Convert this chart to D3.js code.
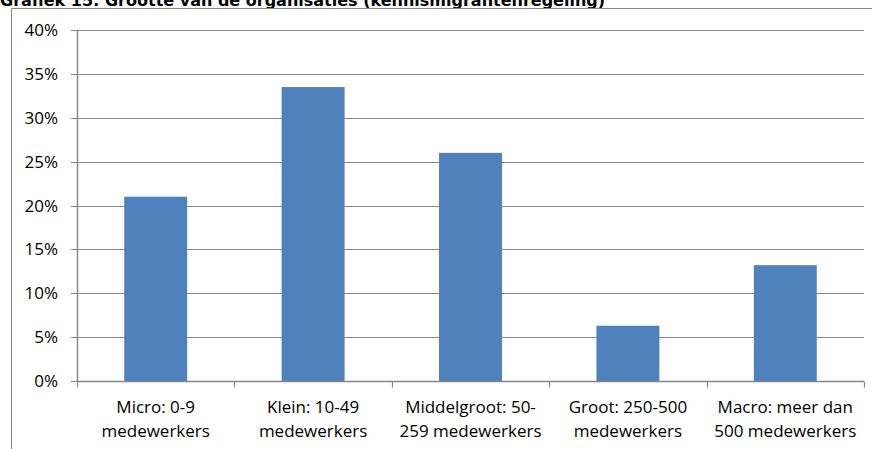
<!DOCTYPE html>
<html>
<head>
    <script src="https://d3js.org/d3.v7.min.js"></script>
    <style>
        body { margin: 0; background: #fff; }
        text { font-family: "Open Sans", "Noto Sans", sans-serif; fill: #000; }
    </style>
</head>
<body>
    <svg id="mysvg" width="872" height="449"></svg>
    <script>
        var title = "Grafiek 15: Grootte van de organisaties (kennismigrantenregeling)";
        var categories = [
            ["Micro: 0-9", "medewerkers"],
            ["Klein: 10-49", "medewerkers"],
            ["Middelgroot: 50-", "259 medewerkers"],
            ["Groot: 250-500", "medewerkers"],
            ["Macro: meer dan", "500 medewerkers"]
        ];
        var values = [21.0, 33.5, 26.0, 6.3, 13.2];
        var yTicks = [0, 5, 10, 15, 20, 25, 30, 35, 40];

        var svg = d3.select("svg");
        var margin = { top: 30, bottom: 68, left: 77, right: 8 };
        var width = 872, height = 449;

        // titel, bovenkant valt buiten beeld (zoals in het origineel)
        svg.append("text")
            .attr("x", 0)
            .attr("y", 6)
            .style("font-family", "Verdana, 'DejaVu Sans', sans-serif")
            .style("font-weight", "bold")
            .style("font-size", "16px")
            .text(title);

        // kader om de grafiek
        svg.append("path")
            .attr("d", "M11.5," + height + "V8.5H" + width)
            .attr("fill", "none")
            .attr("stroke", "#868686")
            .attr("stroke-width", 1);

        var xScale = d3.scaleBand()
            .domain(d3.range(categories.length))
            .range([margin.left, width - margin.right])
            .paddingInner(0.6)
            .paddingOuter(0.3);

        var xOuter = d3.scaleBand()
            .domain(d3.range(categories.length))
            .range([margin.left, width - margin.right]);

        var yScale = d3.scaleLinear()
            .domain([0, 40])
            .range([height - margin.bottom, margin.top]);

        // rasterlijnen
        svg.append("g")
            .selectAll("line")
            .data(yTicks)
            .enter()
            .append("line")
            .attr("x1", margin.left - 6)
            .attr("x2", width - margin.right)
            .attr("y1", (d) => { return Math.round(yScale(d)) + 0.5 })
            .attr("y2", (d) => { return Math.round(yScale(d)) + 0.5 })
            .attr("stroke", "#868686")
            .attr("stroke-width", 1.2);

        // y-as labels
        svg.append("g")
            .selectAll("text")
            .data(yTicks)
            .enter()
            .append("text")
            .attr("x", 58)
            .attr("y", (d) => { return yScale(d) + 6 })
            .attr("text-anchor", "end")
            .style("font-size", "17px")
            .text((d) => { return d + "%" });

        // staven
        svg.append("g")
            .selectAll("rect")
            .data(values)
            .enter()
            .append("rect")
            .attr("x", (d, i) => { return xScale(i) })
            .attr("width", xScale.bandwidth())
            .attr("y", (d) => { return yScale(d) })
            .attr("height", (d) => { return yScale(0) - yScale(d) })
            .attr("fill", "#4f81bd");

        // assen
        var y0 = Math.round(yScale(0)) + 0.5;
        svg.append("line")
            .attr("x1", margin.left + 0.5).attr("x2", margin.left + 0.5)
            .attr("y1", margin.top).attr("y2", y0)
            .attr("stroke", "#868686").attr("stroke-width", 1.5);
        svg.append("line")
            .attr("x1", margin.left).attr("x2", width - margin.right)
            .attr("y1", y0).attr("y2", y0)
            .attr("stroke", "#868686").attr("stroke-width", 1.5);

        // x-as streepjes
        var bounds = d3.range(categories.length).map((i) => { return xOuter(i) });
        bounds.push(width - margin.right);
        svg.append("g")
            .selectAll("line")
            .data(bounds)
            .enter()
            .append("line")
            .attr("x1", (d) => { return Math.round(d) + 0.5 })
            .attr("x2", (d) => { return Math.round(d) + 0.5 })
            .attr("y1", y0)
            .attr("y2", y0 + 6)
            .attr("stroke", "#868686")
            .attr("stroke-width", 1.2);

        // x-as labels
        var labels = svg.append("g")
            .selectAll("text")
            .data(categories)
            .enter()
            .append("text")
            .attr("text-anchor", "middle")
            .style("font-size", "17px");
        labels.each(function (d, i) {
            var cx = xOuter(i) + xOuter.bandwidth() / 2;
            d3.select(this).selectAll("tspan")
                .data(d)
                .enter()
                .append("tspan")
                .attr("x", cx)
                .attr("y", (t, j) => { return 413 + j * 24 })
                .text((t) => { return t });
        });
    </script>
</body>
</html>
